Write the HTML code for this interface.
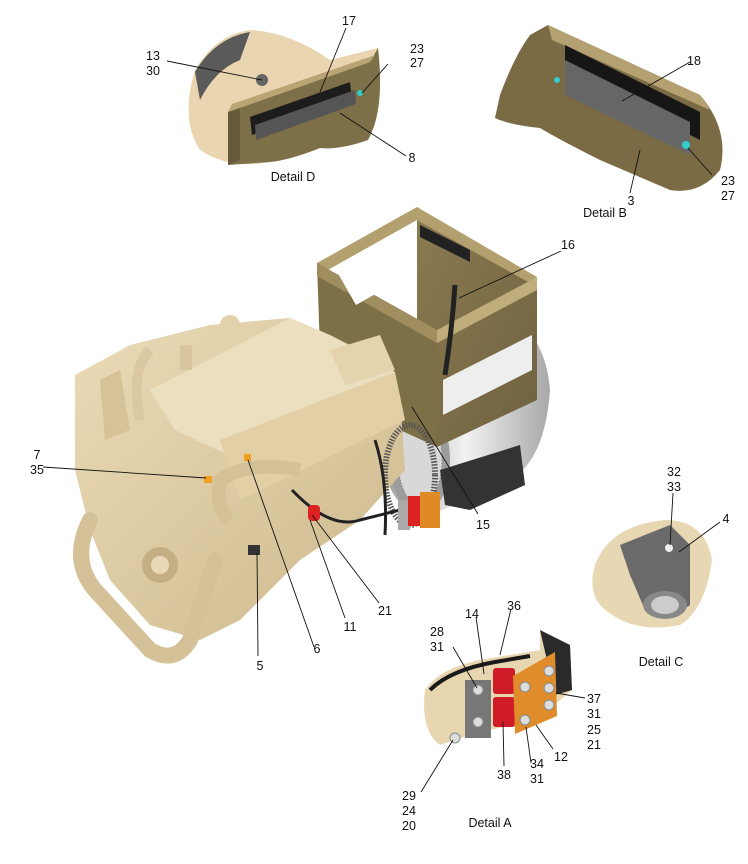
<!DOCTYPE html>
<html><head><meta charset="utf-8"><style>
html,body{margin:0;padding:0;background:#fff;}
svg{display:block}
text{font-family:"Liberation Sans",Arial,sans-serif;font-size:12.5px;fill:#111}
</style></head><body>
<svg width="748" height="864" viewBox="0 0 748 864" xmlns="http://www.w3.org/2000/svg">
<defs>
<linearGradient id="cream" x1="0" y1="0" x2="1" y2="1"><stop offset="0" stop-color="#eadbb7"/><stop offset="1" stop-color="#cdb88c"/></linearGradient>
<linearGradient id="gen" x1="0" y1="0" x2="1" y2="0"><stop offset="0" stop-color="#9a9a9a"/><stop offset="0.5" stop-color="#f2f2f2"/><stop offset="1" stop-color="#a8a8a8"/></linearGradient>
<linearGradient id="olive" x1="0" y1="0" x2="1" y2="1"><stop offset="0" stop-color="#8a7a50"/><stop offset="1" stop-color="#6f6240"/></linearGradient>
</defs>

<!-- Detail D -->
<path d="M195,70 Q215,35 250,30 Q290,32 330,60 L378,48 Q385,110 368,140 Q340,150 320,148 Q290,160 270,162 Q230,170 200,150 Q180,120 195,70Z" fill="#e9d6b0"/>
<path d="M195,72 Q215,38 250,32 L240,60 Q215,70 200,100Z" fill="#5a5a5a"/>
<path d="M228,112 L370,62 L378,48 Q385,110 368,140 Q340,150 320,148 Q290,160 270,162 L228,165Z" fill="#7d6f47"/>
<path d="M228,112 L370,62 L375,55 L232,104Z" fill="#b9a574"/>
<path d="M228,112 L240,108 L240,160 L228,165Z" fill="#665a3a"/>
<polygon points="250,117 350,82 352,100 252,135" fill="#1c1c1c"/>
<polygon points="255,125 355,90 356,104 256,140" fill="#555"/>
<circle cx="262" cy="80" r="6" fill="#666"/>
<circle cx="360" cy="93" r="3" fill="#3cc"/>

<!-- Detail B -->
<path d="M500,95 Q515,55 530,35 L548,25 L700,95 Q730,130 720,170 Q700,195 670,190 L600,160 Q560,140 540,128 Q510,125 495,118Z" fill="#7a6b45"/>
<path d="M548,25 L700,95 Q706,102 710,110 L552,40Z" fill="#b4a171"/>
<polygon points="565,45 700,112 700,140 565,73" fill="#161616"/>
<polygon points="565,60 690,122 690,155 565,95" fill="#666"/>
<circle cx="686" cy="145" r="4" fill="#3cc"/>
<circle cx="557" cy="80" r="3" fill="#3cc"/>

<!-- Generator drum -->
<path d="M385,380 L500,310 Q545,330 550,390 Q545,460 510,480 L420,520 Q385,500 380,450Z" fill="url(#gen)"/>
<ellipse cx="420" cy="460" rx="30" ry="55" fill="#9c9c9c"/>
<ellipse cx="420" cy="460" rx="22" ry="45" fill="#d8d8d8" stroke="#777" stroke-dasharray="1 2"/>
<polygon points="440,470 520,445 525,485 470,510 445,505" fill="#333"/>

<!-- Box frame -->
<polygon points="417,207 537,277 537,290 417,220" fill="#b3a06f"/>
<polygon points="417,207 317,263 317,276 417,220" fill="#b3a06f"/>
<polygon points="417,220 537,287 537,400 437,447 437,340 417,330" fill="url(#olive)"/>
<polygon points="317,263 437,330 437,447 400,430 330,360 320,350" fill="#7d6f46"/>
<polygon points="437,330 537,277 537,290 437,343" fill="#c0ad7c"/>
<polygon points="317,263 437,330 437,343 317,276" fill="#a08e60"/>
<polygon points="336,270 400,236 400,280 356,305" fill="#fff"/>
<polygon points="443,380 532,335 532,370 443,415" fill="#eee"/>
<polygon points="420,225 470,250 470,262 420,237" fill="#222"/>
<path d="M455,285 Q452,330 445,375" stroke="#222" stroke-width="5" fill="none"/>

<!-- Engine body -->
<path d="M75,375 L130,345 L210,325 L290,318 L330,335 L380,360 L400,395 L405,470 L360,520 L300,560 L240,620 L200,640 L150,625 L110,580 L90,530 L75,470Z" fill="url(#cream)"/>
<path d="M150,390 L290,318 L330,335 L395,372 L395,395 L260,470 L175,430Z" fill="#ecdfc0"/>
<path d="M220,440 L395,372 L405,420 L240,500Z" fill="#e2cfa6"/>
<path d="M100,380 L120,370 L130,430 L105,440Z" fill="#d6c297"/>
<path d="M330,350 L380,335 L395,370 L345,385Z" fill="#e4d3ad"/>
<path d="M90,520 Q70,560 95,590 L150,650 Q175,665 190,640 L215,560" stroke="#d4c198" stroke-width="16" fill="none" stroke-linecap="round"/>
<path d="M230,520 Q215,510 220,480 Q250,460 300,470" stroke="#d4c198" stroke-width="14" fill="none"/>
<path d="M150,350 Q130,370 140,420" stroke="#dac8a2" stroke-width="10" fill="none"/>
<circle cx="160" cy="565" r="18" fill="#c3ae83"/>
<circle cx="160" cy="565" r="9" fill="#e8d8b6"/>
<rect x="180" y="345" width="12" height="25" fill="#d8c59e"/>
<circle cx="230" cy="325" r="10" fill="#e2d1ab"/>
<ellipse cx="410" cy="475" rx="25" ry="50" fill="none" stroke="#555" stroke-width="6" stroke-dasharray="1.5 1.5"/>
<path d="M292,490 Q330,530 360,520 L420,505" stroke="#222" stroke-width="3" fill="none"/>
<path d="M375,440 Q388,480 385,535" stroke="#222" stroke-width="3" fill="none"/>
<rect x="308" y="505" width="12" height="16" rx="4" fill="#d22"/>
<rect x="398" y="500" width="12" height="30" fill="#aaa"/>
<rect x="408" y="496" width="12" height="30" fill="#d22"/>
<rect x="420" y="492" width="20" height="36" fill="#e08a25"/>
<rect x="204" y="476" width="8" height="7" fill="#f0a020"/>
<rect x="244" y="454" width="7" height="7" fill="#f0a020"/>
<rect x="248" y="545" width="12" height="10" fill="#333"/>

<!-- Detail C -->
<path d="M595,565 Q610,525 665,520 Q705,520 712,560 Q705,610 680,625 Q630,635 600,605 Q588,590 595,565Z" fill="#e7d7b2"/>
<path d="M620,545 L670,525 L690,545 L690,605 Q670,620 645,610 L630,575Z" fill="#6a6a6a"/>
<ellipse cx="665" cy="605" rx="22" ry="14" fill="#888"/>
<ellipse cx="665" cy="605" rx="14" ry="9" fill="#ccc"/>
<circle cx="669" cy="548" r="4" fill="#eee"/>

<!-- Detail A -->
<path d="M425,690 Q440,668 480,660 L540,650 L540,630 L570,645 L572,690 L560,700 L540,718 L470,735 L440,745 Q420,730 425,690Z" fill="#e8d6b0"/>
<path d="M540,630 L570,645 L572,690 L555,695Z" fill="#2a2a2a"/>
<path d="M430,690 Q450,670 495,662 L530,656" stroke="#1a1a1a" stroke-width="4" fill="none"/>
<rect x="465" y="680" width="26" height="58" fill="#777"/>
<rect x="493" y="668" width="22" height="26" rx="3" fill="#d01c28"/>
<rect x="493" y="697" width="22" height="30" rx="3" fill="#d01c28"/>
<polygon points="513,676 555,652 557,716 515,734" fill="#e08c2a"/>
<g fill="#ddd" stroke="#888"><circle cx="478" cy="690" r="5"/><circle cx="478" cy="722" r="5"/><circle cx="455" cy="738" r="5"/><circle cx="525" cy="687" r="5"/><circle cx="549" cy="671" r="5"/><circle cx="549" cy="688" r="5"/><circle cx="549" cy="705" r="5"/><circle cx="525" cy="720" r="5"/></g>

<g stroke="#111" stroke-width="0.9" fill="none">
<line x1="167" y1="61" x2="262" y2="80"/>
<line x1="346" y1="28" x2="320" y2="92"/>
<line x1="388" y1="64" x2="362" y2="93"/>
<line x1="406" y1="156" x2="340" y2="113"/>
<line x1="690" y1="62" x2="622" y2="101"/>
<line x1="712" y1="175" x2="688" y2="148"/>
<line x1="630" y1="193" x2="640" y2="150"/>
<line x1="561" y1="251" x2="459" y2="298"/>
<line x1="43" y1="467" x2="206" y2="478"/>
<line x1="478" y1="514" x2="412" y2="407"/>
<line x1="673" y1="493" x2="670" y2="545"/>
<line x1="720" y1="522" x2="679" y2="552"/>
<line x1="379" y1="603" x2="312" y2="515"/>
<line x1="345" y1="618" x2="310" y2="520"/>
<line x1="314" y1="647" x2="248" y2="460"/>
<line x1="258" y1="656" x2="257" y2="553"/>
<line x1="476" y1="617" x2="484" y2="674"/>
<line x1="511" y1="609" x2="500" y2="655"/>
<line x1="453" y1="647" x2="477" y2="688"/>
<line x1="585" y1="698" x2="556" y2="693"/>
<line x1="553" y1="749" x2="536" y2="725"/>
<line x1="531" y1="763" x2="526" y2="727"/>
<line x1="504" y1="766" x2="503" y2="722"/>
<line x1="421" y1="792" x2="453" y2="740"/>
</g>

<g text-anchor="middle">
<text x="153" y="60">13</text><text x="153" y="75">30</text>
<text x="349" y="25">17</text>
<text x="417" y="53">23</text><text x="417" y="67">27</text>
<text x="412" y="162">8</text>
<text x="293" y="181">Detail D</text>
<text x="694" y="65">18</text>
<text x="728" y="185">23</text><text x="728" y="200">27</text>
<text x="631" y="205">3</text>
<text x="605" y="217">Detail B</text>
<text x="568" y="249">16</text>
<text x="37" y="459">7</text><text x="37" y="474">35</text>
<text x="483" y="529">15</text>
<text x="674" y="476">32</text><text x="674" y="491">33</text>
<text x="726" y="523">4</text>
<text x="385" y="615">21</text>
<text x="350" y="631">11</text>
<text x="317" y="653">6</text>
<text x="260" y="670">5</text>
<text x="661" y="666">Detail C</text>
<text x="472" y="618">14</text>
<text x="514" y="610">36</text>
<text x="437" y="636">28</text><text x="437" y="651">31</text>
<text x="594" y="703">37</text><text x="594" y="718">31</text><text x="594" y="734">25</text><text x="594" y="749">21</text>
<text x="561" y="761">12</text>
<text x="537" y="768">34</text><text x="537" y="783">31</text>
<text x="504" y="779">38</text>
<text x="409" y="800">29</text><text x="409" y="815">24</text><text x="409" y="830">20</text>
<text x="490" y="827">Detail A</text>
</g>
</svg>
</body></html>
